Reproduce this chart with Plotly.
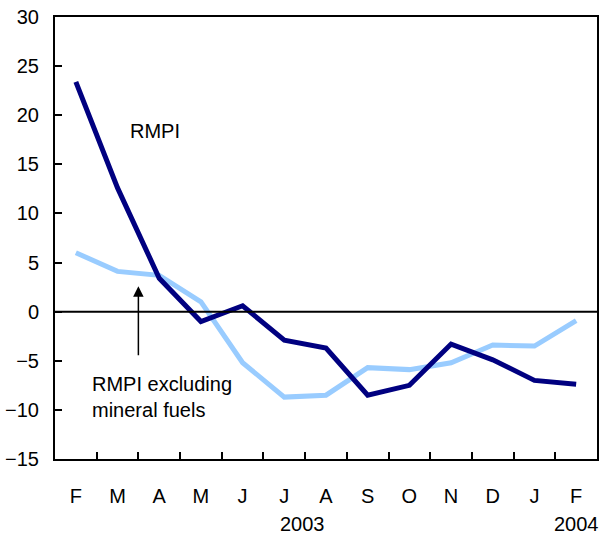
import plotly.graph_objects as go

months = ["F", "M", "A", "M", "J", "J", "A", "S", "O", "N", "D", "J", "F"]
rmpi = [23.4, 12.6, 3.4, -1.0, 0.6, -2.9, -3.7, -8.5, -7.5, -3.3, -4.9, -7.0, -7.4]
rmpi_ex_fuels = [6.0, 4.1, 3.7, 1.0, -5.2, -8.7, -8.5, -5.7, -5.9, -5.2, -3.4, -3.5, -0.9]
y_ticks = [-15, -10, -5, 0, 5, 10, 15, 20, 25, 30]

x_idx = list(range(len(months)))
FONT = "Liberation Sans, Arial, sans-serif"

fig = go.Figure()
fig.add_trace(go.Scatter(x=x_idx, y=rmpi_ex_fuels, mode="lines",
                         line=dict(color="#99CCFF", width=5), name="RMPI excluding mineral fuels"))
fig.add_trace(go.Scatter(x=x_idx, y=rmpi, mode="lines",
                         line=dict(color="#000080", width=5), name="RMPI"))

# zero reference line
fig.add_shape(type="line", xref="paper", yref="y", x0=0, x1=1, y0=0, y1=0,
              line=dict(color="black", width=2))

fig.update_layout(
    width=600, height=538,
    margin=dict(l=55, r=1, t=17, b=79),
    plot_bgcolor="white", paper_bgcolor="white",
    showlegend=False,
    font=dict(family=FONT, size=20, color="black"),
    xaxis=dict(
        range=[-0.5, len(months) - 0.5],
        tickmode="array", tickvals=x_idx, ticktext=months,
        ticks="", showgrid=False, zeroline=False,
        showline=True, linecolor="black", linewidth=2, mirror=True,
        ticklabelstandoff=18,
        minor=dict(tickmode="array", tickvals=[i + 0.5 for i in x_idx[:-1]],
                   ticks="inside", ticklen=7, tickwidth=2, tickcolor="black", showgrid=False),
    ),
    yaxis=dict(
        range=[-15, 30], tickvals=y_ticks,
        ticks="inside", ticklen=7, tickwidth=2, tickcolor="black",
        showgrid=False, zeroline=False,
        showline=True, linecolor="black", linewidth=2, mirror=True,
        ticklabelstandoff=10,
    ),
    annotations=[
        dict(x=1.24, y=18.4, xref="x", yref="y", text="RMPI", showarrow=False,
             xanchor="left", yanchor="middle"),
        dict(x=0.33, y=-8.7, xref="x", yref="y", text="RMPI excluding<br>mineral fuels",
             showarrow=False, xanchor="left", yanchor="middle", align="left"),
        dict(x=1.5, y=2.6, ax=1.5, ay=-4.6, xref="x", yref="y", axref="x", ayref="y",
             text="", showarrow=True, arrowhead=2, arrowsize=1.4, arrowwidth=1.5,
             arrowcolor="black"),
        dict(x=5.43, y=-0.148, xref="x", yref="paper", text="2003", showarrow=False,
             xanchor="center", yanchor="middle", borderpad=0),
        dict(x=12, y=-0.148, xref="x", yref="paper", text="2004", showarrow=False,
             xanchor="center", yanchor="middle", borderpad=0),
    ],
)

fig.write_html("out.html")
